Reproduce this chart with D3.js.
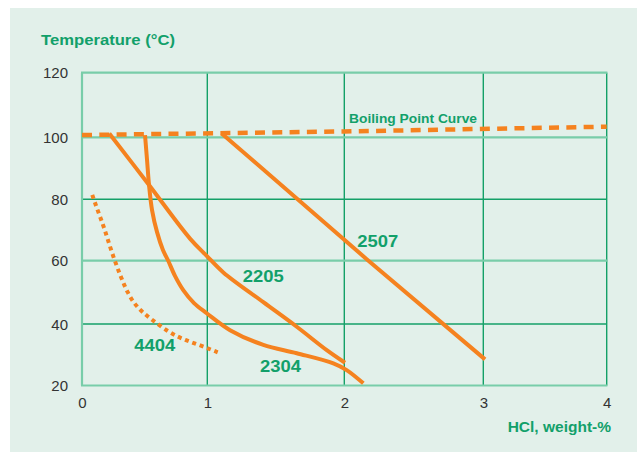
<!DOCTYPE html>
<html>
<head>
<meta charset="utf-8">
<script src="https://cdn.jsdelivr.net/npm/d3@7"></script>
<style>
  html, body { margin: 0; padding: 0; background: #ffffff; }
  svg { display: block; }
  text { font-family: "Liberation Sans", Arial, sans-serif; }
</style>
</head>
<body>
<svg id="chart" width="637" height="452"></svg>
<script>
// ---- data ----
const xTicks = [0, 1, 2, 3, 4];
const yTicks = [20, 40, 60, 80, 100, 120];
const lightYLines = [20, 60, 100, 120];
const darkYLines = [40, 80];
const lightXLines = [0];
const darkXLines = [1, 2, 3, 4];

const boilingX = [0, 2, 4];
const boilingY = [100.7, 101.8, 103.3];

const a2205X = [0.218, 0.535, 0.862, 0.995, 1.117, 1.409, 1.653, 1.872, 2.005];
const a2205Y = [101.2, 84.6, 67.2, 61.6, 56.3, 46.9, 39.1, 31.5, 27.4];

const a2304X = [0.503, 0.519, 0.535, 0.559, 0.599, 0.646, 0.689, 0.742, 0.808, 0.894, 0.995, 1.166, 1.409, 1.653, 1.92, 2.017, 2.137];
const a2304Y = [100.7, 92.7, 84.6, 76.5, 69.3, 63.5, 59.9, 55.2, 50.7, 46.6, 43.4, 38.0, 33.2, 30.5, 27.2, 25.0, 20.7];

const a2507X = [1.105, 2.161, 3.014];
const a2507Y = [101.2, 60.5, 28.5];

const a4404X = [0.082, 0.130, 0.178, 0.237, 0.309, 0.362, 0.431, 0.535, 0.702, 0.822, 0.955, 1.076];
const a4404Y = [81.4, 75.8, 70.7, 62.7, 54.9, 50.0, 45.5, 42.0, 37.0, 34.8, 32.9, 30.8];

const seriesLabels = ["2205", "2304", "2507", "4404"];
const labelX = [1.258, 1.385, 2.094, 0.417];
const labelY = [53.4, 24.5, 64.6, 31.3];

const titleY = "Temperature (°C)";
const titleX = "HCl, weight-%";
const boilingLabel = "Boiling Point Curve";

// ---- styles ----
const BG = "#e2f0ea";
const DARK = "#14a068";
const LIGHT = "#78cda9";
const ORANGE = "#f5821f";
const TXTGREEN = "#12a06a";
const TICKTXT = "#333333";

const svg = d3.select("#chart");

svg.append("rect").attr("x", 10).attr("y", 8).attr("width", 627).attr("height", 444).attr("fill", BG);

const x = d3.scaleLinear().domain(xTicks).range([82, 207.3, 344.3, 483.3, 606.7]);
const y = d3.scaleLinear().domain(yTicks).range([385.5, 324, 260.7, 199.3, 137.3, 72.7]);

const g = svg.append("g");

// grid lines
g.selectAll(".gyd").data(darkYLines).enter().append("line")
  .attr("x1", x(0)).attr("x2", x(4)).attr("y1", d => y(d)).attr("y2", d => y(d))
  .attr("stroke", DARK).attr("stroke-width", 1.4);
g.selectAll(".gxd").data(darkXLines).enter().append("line")
  .attr("y1", y(20)).attr("y2", y(120)).attr("x1", d => x(d)).attr("x2", d => x(d))
  .attr("stroke", DARK).attr("stroke-width", 1.4);
g.selectAll(".gyl").data(lightYLines).enter().append("line")
  .attr("x1", x(0) - 1).attr("x2", x(4) + 0.7).attr("y1", d => y(d)).attr("y2", d => y(d))
  .attr("stroke", LIGHT).attr("stroke-width", 2.2);
g.selectAll(".gxl").data(lightXLines).enter().append("line")
  .attr("y1", y(20)).attr("y2", y(120)).attr("x1", d => x(d)).attr("x2", d => x(d))
  .attr("stroke", LIGHT).attr("stroke-width", 2.2);

// axes (labels only)
const fmt = d3.format("d");
const yAxis = d3.axisLeft(y).tickValues(yTicks).tickFormat(fmt).tickSize(0).tickPadding(14);
const ya = svg.append("g").attr("transform", `translate(${x(0)},0)`).call(yAxis);
ya.select(".domain").remove();
ya.selectAll("text").attr("font-size", 15).attr("fill", TICKTXT)
  .attr("font-family", "Liberation Sans, Arial, sans-serif").attr("dy", "0.34em");

const xAxis = d3.axisBottom(x).tickValues(xTicks).tickFormat(fmt).tickSize(0).tickPadding(12);
const xa = svg.append("g").attr("transform", `translate(0,${y(20)})`).call(xAxis);
xa.select(".domain").remove();
xa.selectAll("text").attr("font-size", 15).attr("fill", TICKTXT)
  .attr("font-family", "Liberation Sans, Arial, sans-serif");

// curves
const zip = (a, b) => a.map((v, i) => [v, b[i]]);
const mkLine = c => d3.line().x(d => x(d[0])).y(d => y(d[1])).curve(c);
const smooth = d3.curveCatmullRom.alpha(0.5);

svg.append("path").datum(zip(boilingX, boilingY))
  .attr("d", mkLine(d3.curveLinear))
  .attr("fill", "none").attr("stroke", ORANGE).attr("stroke-width", 4.5)
  .attr("stroke-dasharray", "10,7.3");

[[a2205X, a2205Y, smooth], [a2304X, a2304Y, smooth], [a2507X, a2507Y, d3.curveLinear]].forEach(([xs, ys, c]) => {
  svg.append("path").datum(zip(xs, ys)).attr("d", mkLine(c))
    .attr("fill", "none").attr("stroke", ORANGE).attr("stroke-width", 4)
    .attr("stroke-linejoin", "round");
});

svg.append("path").datum(zip(a4404X, a4404Y)).attr("d", mkLine(d3.curveBasis))
  .attr("fill", "none").attr("stroke", ORANGE).attr("stroke-width", 4)
  .attr("stroke-dasharray", "4,3.8");

// series labels
svg.selectAll(".slab").data(seriesLabels).enter().append("text")
  .attr("x", (d, i) => x(labelX[i])).attr("y", (d, i) => y(labelY[i]))
  .attr("font-size", 16.5).attr("font-weight", "bold").attr("fill", TXTGREEN)
  .attr("textLength", 41).attr("lengthAdjust", "spacingAndGlyphs")
  .text(d => d);

svg.append("text").attr("x", 349).attr("y", 123)
  .attr("font-size", 13.5).attr("font-weight", "bold").attr("fill", TXTGREEN)
  .attr("textLength", 128).attr("lengthAdjust", "spacingAndGlyphs")
  .text(boilingLabel);

// titles
svg.append("text").attr("x", 41).attr("y", 45)
  .attr("font-size", 15.5).attr("font-weight", "bold").attr("fill", TXTGREEN)
  .attr("textLength", 134).attr("lengthAdjust", "spacingAndGlyphs")
  .text(titleY);

svg.append("text").attr("x", 611).attr("y", 432).attr("text-anchor", "end")
  .attr("font-size", 15.5).attr("font-weight", "bold").attr("fill", TXTGREEN)
  .text(titleX);
</script>
</body>
</html>
